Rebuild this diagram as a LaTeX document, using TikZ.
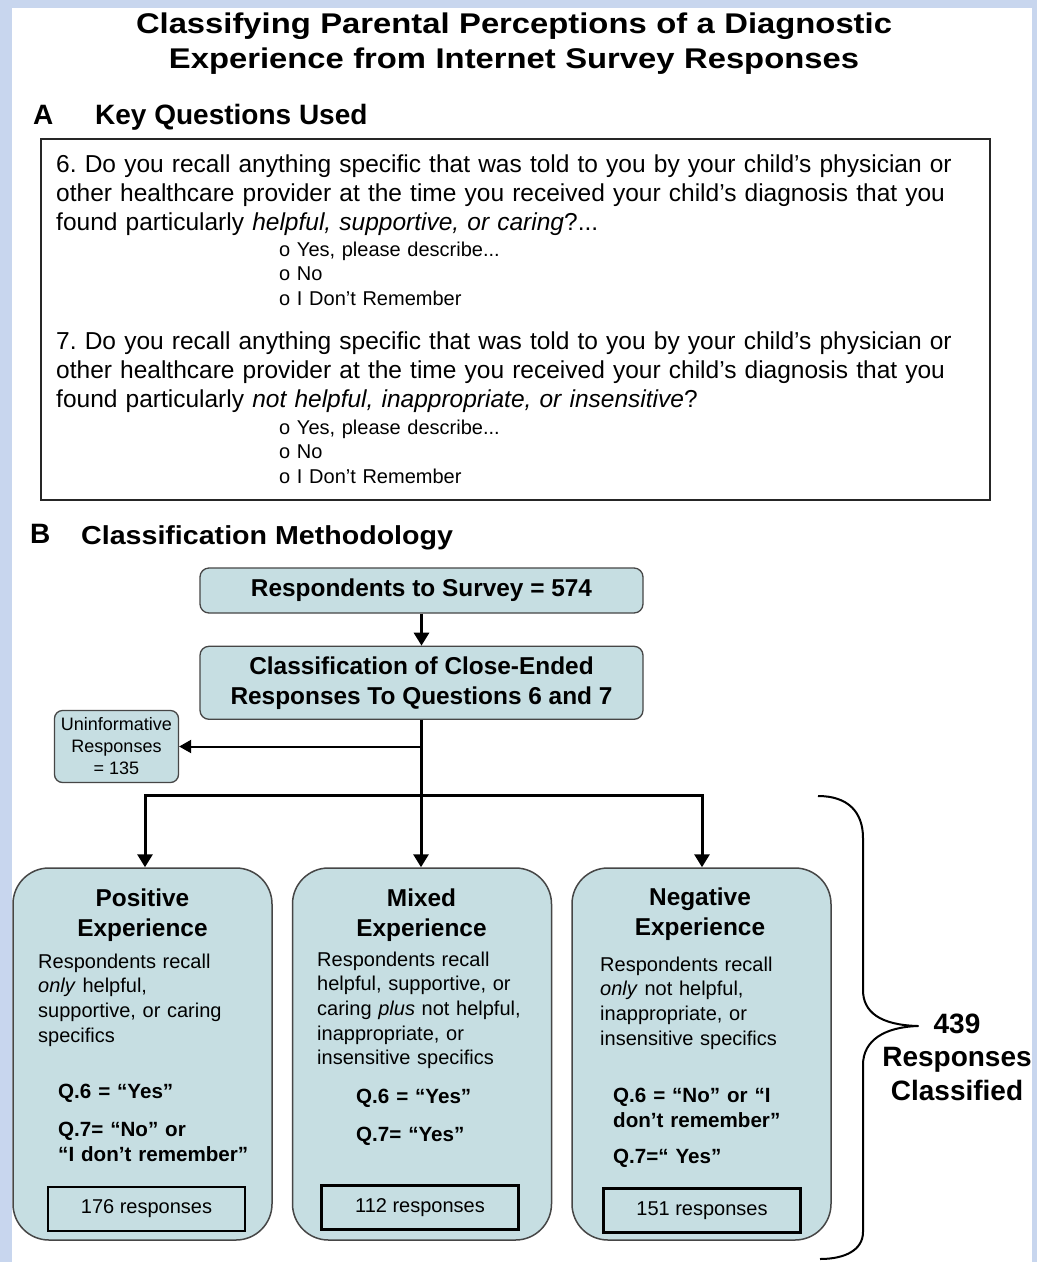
\documentclass[tikz,border=0pt]{standalone}
\usepackage{fontspec}
\setmainfont{Liberation Sans}
\newfontfamily\widefont[FakeStretch=1.15]{Liberation Sans}
\newfontfamily\semiwidefont[FakeStretch=1.1]{Liberation Sans}
\usepackage{tikz}
\usetikzlibrary{arrows.meta,positioning}
\definecolor{framebl}{RGB}{200,214,238}
\definecolor{boxfill}{RGB}{198,222,226}
\definecolor{edgegray}{RGB}{70,70,70}
\frenchspacing

\begin{document}
\begin{tikzpicture}[x=1pt, y=-1pt, inner sep=0pt]

    \tikzstyle{title}=[font=\fontsize{28.5}{35}\selectfont\widefont\bfseries, text width=900pt, align=center, anchor=base]
    \tikzstyle{part}=[font=\fontsize{28}{34}\selectfont\bfseries, anchor=base west]
    \tikzstyle{qtext}=[font=\fontsize{24.5}{29}\selectfont, text width=940pt, align=left, anchor=base west]
    \tikzstyle{opts}=[font=\fontsize{20}{24.5}\selectfont, text width=300pt, align=left, anchor=base west]
    \tikzstyle{bluebox}=[rectangle, rounded corners=9pt, draw=edgegray, line width=1.3pt, fill=boxfill, align=center, font=\fontsize{24.4}{30}\selectfont\bfseries]
    \tikzstyle{catbox}=[rectangle, rounded corners=36pt, draw=edgegray, line width=1.5pt, fill=boxfill, minimum width=259pt, minimum height=372pt]
    \tikzstyle{cathead}=[font=\fontsize{24.4}{30}\selectfont\bfseries, text width=240pt, align=center, anchor=base]
    \tikzstyle{desc}=[font=\fontsize{20}{24.7}\selectfont, text width=235pt, align=left, anchor=base west]
    \tikzstyle{rule}=[font=\fontsize{20.6}{25.5}\selectfont\bfseries, text width=220pt, align=left, anchor=base west]
    \tikzstyle{countbox}=[rectangle, draw=black, line width=2.5pt, minimum width=197pt, minimum height=44pt, font=\fontsize{20}{24}\selectfont]
    \tikzstyle{trunk}=[line width=3pt]
    \tikzstyle{flow}=[->, line width=3pt, >={Triangle[width=15pt,length=13pt]}]
    \tikzstyle{thinflow}=[->, line width=2pt, >={Triangle[width=13pt,length=12pt]}]
    \tikzstyle{brace}=[line width=2pt, line join=round]

    % page
    \useasboundingbox (0,0) rectangle (1037,1262);
    \fill[framebl] (0,0) rectangle (1037,1262);
    \fill[white] (12,8) rectangle (1032,1262);

    \node[title] (head) at (514,33) {Classifying Parental Perceptions of a Diagnostic\\Experience from Internet Survey Responses};

    % part A
    \node[part] (partA) at (33,124) {A};
    \node[part] (keyq) at (95,124) {Key Questions Used};
    \node[draw=black!85, line width=2pt, minimum width=949pt, minimum height=361pt] (qbox) at (515.5,319.5) {};
    \node[qtext] (q6) at (56,172) {6. Do you recall anything specific that was told to you by your child's physician or\\other healthcare provider at the time you received your child's diagnosis that you\\found particularly \textit{helpful, supportive, or caring}?...};
    \node[opts] (q6opt) at (279,256) {o Yes, please describe...\\o No\\o I Don't Remember};
    \node[qtext] (q7) at (56,349) {7. Do you recall anything specific that was told to you by your child's physician or\\other healthcare provider at the time you received your child's diagnosis that you\\found particularly \textit{not helpful, inappropriate, or insensitive}?};
    \node[opts] (q7opt) at (279,434) {o Yes, please describe...\\o No\\o I Don't Remember};

    % part B
    \node[part] (partB) at (30,543) {B};
    \node[part, font=\fontsize{26}{32}\selectfont\semiwidefont\bfseries] (method) at (81,544) {Classification Methodology};

    \node[bluebox, minimum width=443pt, minimum height=45pt] (survey) at (421.5,590.5) {Respondents to Survey = 574};
    \node[bluebox, minimum width=443pt, minimum height=73pt, below=32pt of survey] (classify) {Classification of Close-Ended\\Responses To Questions 6 and 7};
    \node[bluebox, rounded corners=8pt, font=\fontsize{18}{22}\selectfont, minimum width=124pt, minimum height=72pt] (uninf) at (116.5,746.5) {Uninformative\\Responses\\= 135};

    \node[catbox] (pos) at (142.5,1054) {};
    \node[catbox, right=19pt of pos] (mixed) {};
    \node[catbox, right=19pt of mixed] (neg) {};

    \coordinate (bar) at (421,795);
    \coordinate (barL) at (145,795);
    \coordinate (barR) at (702,795);

    \draw[flow] (survey) -- (classify);
    \draw[trunk] (classify.south -| bar) -- (bar);
    \draw[thinflow] (bar |- uninf.east) -- (uninf.east);
    \draw[trunk, line cap=rect] (barL) -- (barR);
    \draw[flow] (barL) -- (barL |- pos.north);
    \draw[flow] (bar) -- (bar |- mixed.north);
    \draw[flow] (barR) -- (barR |- neg.north);

    % positive
    \node[cathead] (posT) at (142.5,906) {Positive\\Experience};
    \node[desc] (posD) at (38,968) {Respondents recall\\\textit{only} helpful,\\supportive, or caring\\specifics};
    \node[rule] (posQ6) at (58,1098) {Q.6 = “Yes”};
    \node[rule] (posQ7) at (58,1136) {Q.7= “No” or\\“I don’t remember”};
    \node[countbox] (posN) at (146.5,1209) {176 responses};

    % mixed
    \node[cathead] (mixT) at (421.5,906) {Mixed\\Experience};
    \node[desc] (mixD) at (317,966) {Respondents recall\\helpful, supportive, or\\caring \textit{plus} not helpful,\\inappropriate, or\\insensitive specifics};
    \node[rule] (mixQ6) at (356,1103) {Q.6 = “Yes”};
    \node[rule] (mixQ7) at (356,1141) {Q.7= “Yes”};
    \node[countbox] (mixN) at (420,1207.5) {112 responses};

    % negative
    \node[cathead] (negT) at (700,905) {Negative\\Experience};
    \node[desc] (negD) at (600,971) {Respondents recall\\\textit{only} not helpful,\\inappropriate, or\\insensitive specifics};
    \node[rule] (negQ6) at (613,1102) {Q.6 = “No” or “I\\don’t remember”};
    \node[rule] (negQ7) at (613,1163) {Q.7=“ Yes”};
    \node[countbox] (negN) at (702,1210.5) {151 responses};

    % brace
    \coordinate (tip) at (918,1026);
    \draw[brace] (818,796) .. controls (848,796) and (863,812) .. (863,838) -- (863,990)
        .. controls (863,1012) and (880,1025) .. (tip)
        .. controls (885,1027) and (863,1040) .. (863,1065) -- (863,1232)
        .. controls (863,1250) and (845,1259) .. (820,1259);
    \node[font=\fontsize{28}{33.5}\selectfont\bfseries, text width=160pt, align=center, anchor=base] (total) at (957,1033) {439\\Responses\\Classified};

\end{tikzpicture}
\end{document}
